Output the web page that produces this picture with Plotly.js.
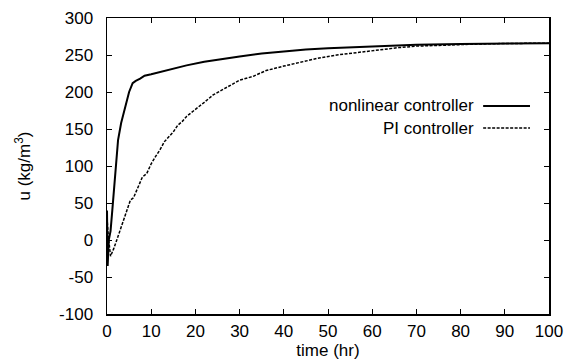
<!DOCTYPE html>
<html>
<head>
<meta charset="utf-8">
<script src="https://cdn.plot.ly/plotly-3.0.1.min.js"></script>
<style>html,body{margin:0;padding:0;background:#fff;}#chart{width:565px;height:364px;}</style>
</head>
<body>
<div id="chart"></div>
<script>
// time (hr) and u (kg/m^3) for each controller
var nonlinearTime = [0, 0.15, 0.4, 0.8, 1.2, 1.8, 2.5, 3.2, 4, 5, 5.8, 6.5, 7.5, 8.5, 10, 12, 15, 18, 22, 26, 30, 35, 40, 45, 50, 55, 60, 70, 80, 90, 100];
var nonlinearU    = [40, -35, 0, 12, 40, 90, 135, 158, 178, 200, 212, 215, 218, 222, 224, 227, 232, 236, 241, 245, 248, 252, 255, 257.5, 259, 260.5, 262, 264, 265, 265.5, 266];

var piTime = [0, 0.3, 0.8, 1.5, 2.5, 3.5, 4.5, 5.3, 6, 7, 8, 9, 10, 11, 12, 13, 14, 15, 16, 17, 18, 20, 22, 24, 26, 28, 30, 33, 36, 40, 44, 48, 52, 56, 60, 66, 70, 78, 85, 90, 95, 100];
var piU    = [30, 5, -22, -12, 5, 22, 40, 54, 57, 70, 85, 90, 103, 113, 122, 133, 139, 146, 155, 160, 167, 176, 186, 196, 203, 210, 216, 221, 229, 235, 241, 246, 250, 253, 256, 260, 262, 264, 265, 265.5, 266, 266];

var xTicks = [0, 10, 20, 30, 40, 50, 60, 70, 80, 90, 100];
var yTicks = [-100, -50, 0, 50, 100, 150, 200, 250, 300];
var seriesNames = ['nonlinear controller', 'PI controller'];

var font = {family: 'Liberation Sans, Arial, sans-serif', size: 17, color: '#000'};

var traces = [
  {x: nonlinearTime, y: nonlinearU, mode: 'lines', name: seriesNames[0],
   line: {color: '#000', width: 2}},
  {x: piTime, y: piU, mode: 'lines', name: seriesNames[1],
   line: {color: '#000', width: 1.5, dash: '3px,1.5px'}}
];

var layout = {
  width: 565, height: 364,
  margin: {l: 107, r: 16, t: 18, b: 50},
  paper_bgcolor: '#fff', plot_bgcolor: '#fff',
  showlegend: false,
  font: font,
  xaxis: {
    range: [0, 100], tickvals: xTicks, ticktext: xTicks.map(String),
    showgrid: false, zeroline: false, showline: true, linecolor: '#000', linewidth: 1.5,
    mirror: 'ticks', ticks: 'inside', ticklen: 5, tickcolor: '#000',
    tickfont: font, ticklabelstandoff: 1,
    title: {text: 'time (hr)', font: font, standoff: 4}
  },
  yaxis: {
    range: [-100, 300], tickvals: yTicks, ticktext: yTicks.map(String),
    showgrid: false, zeroline: false, showline: true, linecolor: '#000', linewidth: 1.5,
    mirror: 'ticks', ticks: 'inside', ticklen: 5, tickcolor: '#000',
    tickfont: font, ticklabelstandoff: 9,
    title: {text: 'u (kg/m<sup>3</sup>)', font: font, standoff: 24}
  },
  annotations: [
    {xref: 'paper', yref: 'paper', x: 0.835, y: 0.703, xanchor: 'right', yanchor: 'middle',
     text: seriesNames[0], showarrow: false, font: font},
    {xref: 'paper', yref: 'paper', x: 0.835, y: 0.628, xanchor: 'right', yanchor: 'middle',
     text: seriesNames[1], showarrow: false, font: font}
  ],
  shapes: [
    {type: 'line', xref: 'paper', yref: 'paper', x0: 0.851, x1: 0.957, y0: 0.703, y1: 0.703,
     line: {color: '#000', width: 2}},
    {type: 'line', xref: 'paper', yref: 'paper', x0: 0.851, x1: 0.957, y0: 0.628, y1: 0.628,
     line: {color: '#000', width: 1.5, dash: '3px,1.5px'}}
  ]
};

Plotly.newPlot('chart', traces, layout, {staticPlot: true, displayModeBar: false});
</script>
</body>
</html>
